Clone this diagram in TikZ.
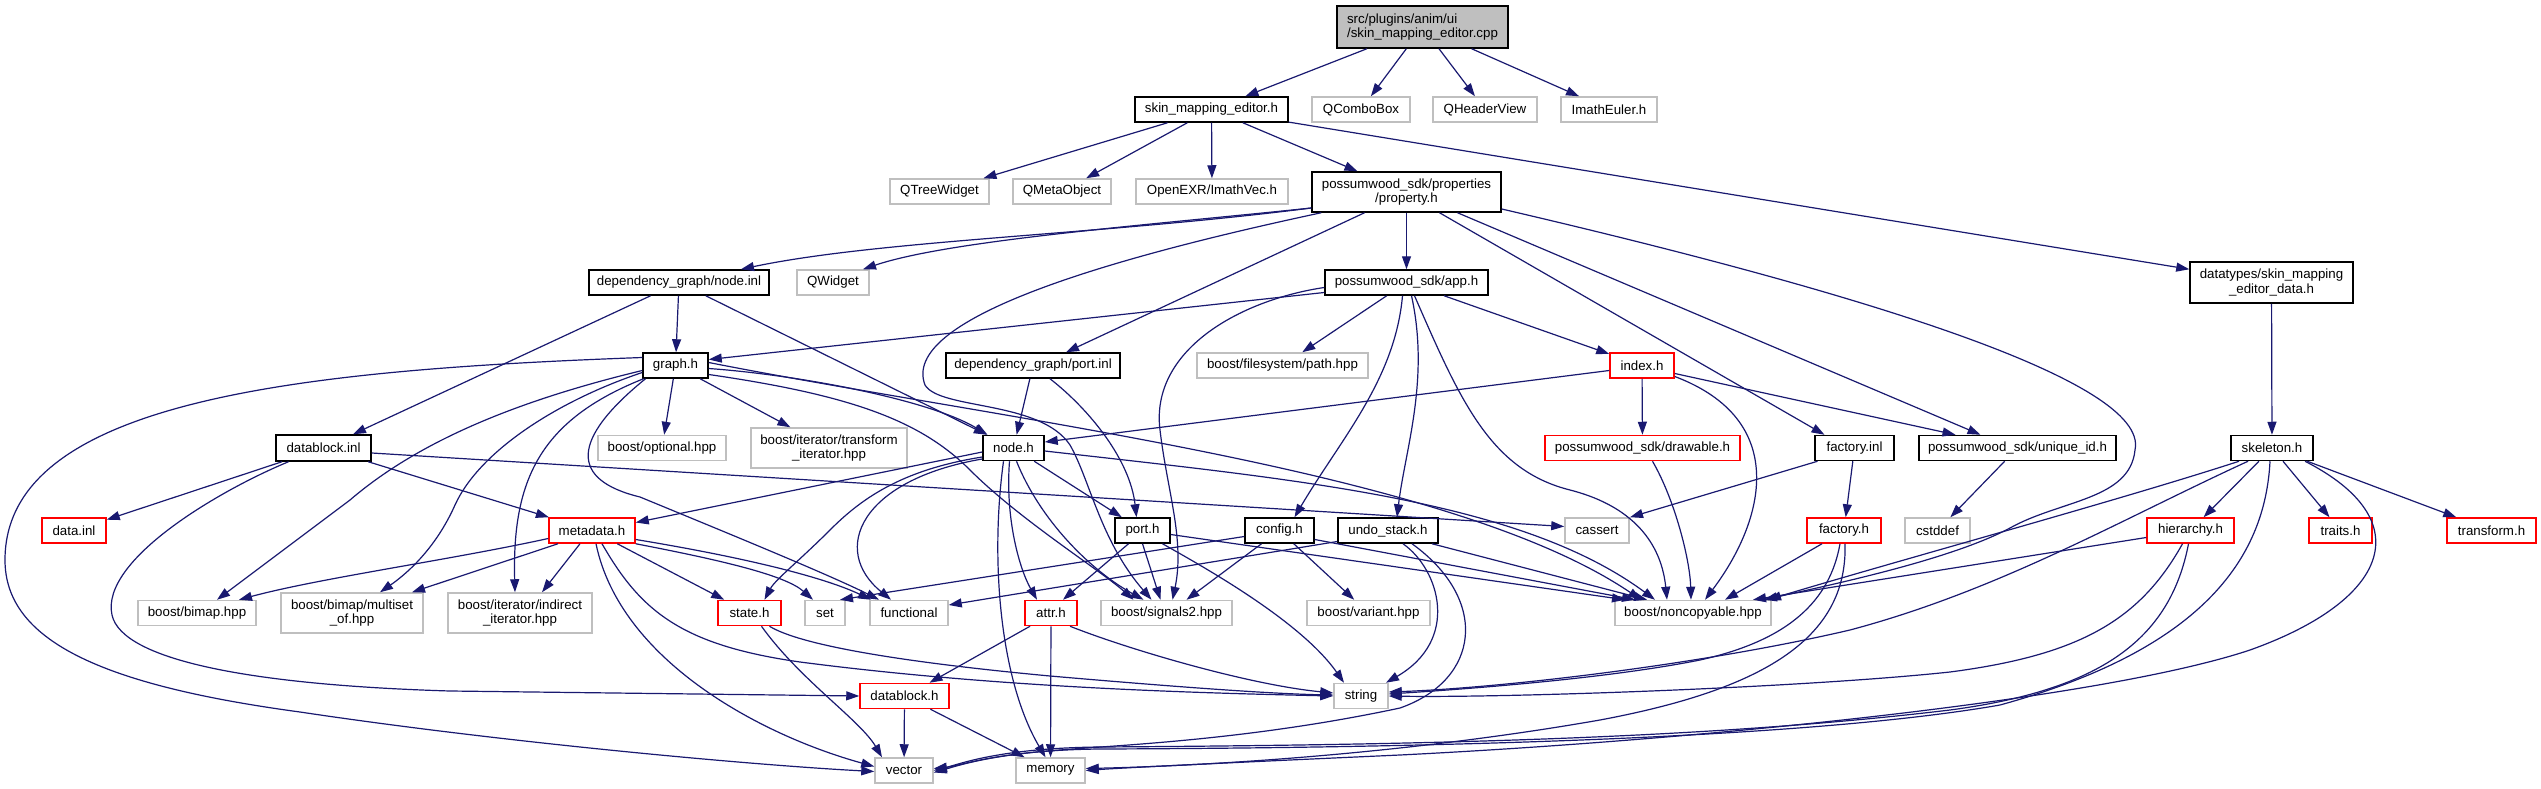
\documentclass[tikz,border=0pt]{standalone}
\usepackage{fontspec}
\setmainfont{Liberation Sans}
\usetikzlibrary{arrows.meta}
\definecolor{ec}{HTML}{191970}
\definecolor{gc}{HTML}{BFBFBF}
\definecolor{rc}{HTML}{FF0000}
\begin{document}
\begin{tikzpicture}[x=1pt,y=-1pt,
  bx/.style={draw=black, fill=white, line width=1.5pt, inner sep=0pt, align=center,
    font=\fontsize{13.3}{14.5}\selectfont, minimum height=25pt},
  gx/.style={bx, draw=gc},
  rx/.style={bx, draw=rc},
  e/.style={draw=ec, line width=1.2pt, -{Triangle[length=13pt,width=9pt]}}]
\useasboundingbox (0,0) rectangle (2541,789);
\fill[white] (0,0) rectangle (2541,789);
% ---------- nodes ----------
\node[bx, fill=gc, align=left, minimum width=171pt, minimum height=42pt] (cpp) at (1422.5,27) {src/plugins/anim/ui\\/skin\_mapping\_editor.cpp};
\node[bx, minimum width=153pt] (sme) at (1211.5,109.5) {skin\_mapping\_editor.h};
\node[gx, minimum width=98pt] (qcb) at (1361,109.5) {QComboBox};
\node[gx, minimum width=104pt] (qhv) at (1485,109.5) {QHeaderView};
\node[gx, minimum width=96pt] (ieu) at (1609,109.5) {ImathEuler.h};
\node[gx, minimum width=99pt] (qtw) at (939.5,191.5) {QTreeWidget};
\node[gx, minimum width=98pt] (qmo) at (1062,191.5) {QMetaObject};
\node[gx, minimum width=152pt] (ivec) at (1212,191.5) {OpenEXR/ImathVec.h};
\node[bx, minimum width=189pt, minimum height=40pt] (prop) at (1406.5,192) {possumwood\_sdk/properties\\/property.h};
\node[bx, minimum width=180pt] (ninl) at (679,282.5) {dependency\_graph/node.inl};
\node[gx, minimum width=72pt] (qw) at (833,282.5) {QWidget};
\node[bx, minimum width=163pt] (app) at (1406.5,282.5) {possumwood\_sdk/app.h};
\node[bx, minimum width=163pt, minimum height=41pt] (dt) at (2271.5,282.5) {datatypes/skin\_mapping\\\_editor\_data.h};
\node[bx, minimum width=65pt] (graph) at (675.5,365.5) {graph.h};
\node[bx, minimum width=174pt] (pinl) at (1033,365.5) {dependency\_graph/port.inl};
\node[gx, minimum width=171pt] (fsp) at (1282.5,365.5) {boost/filesystem/path.hpp};
\node[rx, minimum width=64pt] (idx) at (1642,365.5) {index.h};
\node[bx, minimum width=95pt, minimum height=26pt] (dbinl) at (323.5,448) {datablock.inl};
\node[gx, minimum width=128pt] (opt) at (662,448) {boost/optional.hpp};
\node[gx, minimum width=156pt, minimum height=40pt] (tit) at (829,448) {boost/iterator/transform\\\_iterator.hpp};
\node[bx, minimum width=61pt] (nodeh) at (1013.5,448) {node.h};
\node[rx, minimum width=195pt] (draw) at (1642.5,448) {possumwood\_sdk/drawable.h};
\node[bx, minimum width=79pt] (finl) at (1854.5,448) {factory.inl};
\node[bx, minimum width=197pt] (uid) at (2017.5,448) {possumwood\_sdk/unique\_id.h};
\node[bx, minimum width=82pt] (skel) at (2272,448) {skeleton.h};
\node[rx, minimum width=64pt] (dinl) at (74,530.5) {data.inl};
\node[rx, minimum width=86pt] (meta) at (592,530.5) {metadata.h};
\node[bx, minimum width=55pt] (porth) at (1142.5,530.5) {port.h};
\node[bx, minimum width=69pt] (cfg) at (1279.5,530.5) {config.h};
\node[bx, minimum width=100pt] (undo) at (1388,530.5) {undo\_stack.h};
\node[gx, minimum width=64pt] (cas) at (1597,530.5) {cassert};
\node[rx, minimum width=74pt] (fach) at (1844,530.5) {factory.h};
\node[gx, minimum width=65pt] (cstd) at (1937.5,530.5) {cstddef};
\node[rx, minimum width=87pt] (hier) at (2190.5,530.5) {hierarchy.h};
\node[rx, minimum width=63pt] (trt) at (2340.5,530.5) {traits.h};
\node[rx, minimum width=89pt] (trf) at (2491.5,530.5) {transform.h};
\node[gx, minimum width=118pt] (bimap) at (197,613) {boost/bimap.hpp};
\node[gx, minimum width=142pt, minimum height=40pt] (mset) at (352,613) {boost/bimap/multiset\\\_of.hpp};
\node[gx, minimum width=144pt, minimum height=40pt] (ind) at (520,613) {boost/iterator/indirect\\\_iterator.hpp};
\node[rx, minimum width=63pt] (state) at (749.5,613) {state.h};
\node[gx, minimum width=40pt] (set) at (825,613) {set};
\node[gx, minimum width=78pt] (func) at (909,613) {functional};
\node[rx, minimum width=52pt] (attr) at (1051,613) {attr.h};
\node[gx, minimum width=131pt] (sig) at (1166.5,613) {boost/signals2.hpp};
\node[gx, minimum width=123pt] (var) at (1368.5,613) {boost/variant.hpp};
\node[gx, minimum width=156pt] (nc) at (1693,613) {boost/noncopyable.hpp};
\node[rx, minimum width=89pt] (dbh) at (904.5,696) {datablock.h};
\node[gx, minimum width=54pt] (str) at (1361,696) {string};
\node[gx, minimum width=58pt] (vec) at (904,770.5) {vector};
\node[gx, minimum width=69pt] (mem) at (1050.5,770.5) {memory};
% ---------- edges ----------
\draw[e] (cpp) -- (sme);
\draw[e] (cpp) -- (qcb);
\draw[e] (cpp) -- (qhv);
\draw[e] (cpp) -- (ieu);
\draw[e] (sme) -- (qtw);
\draw[e] (sme) -- (qmo);
\draw[e] (sme) -- (ivec);
\draw[e] (sme) -- (prop);
\draw[e] (sme) -- (dt);
% property.h
\draw[e] ([yshift=-16pt]prop.west) .. controls (1100,235) and (880,240) .. ([xshift=62pt]ninl.north);
\draw[e] ([yshift=-16pt]prop.west) .. controls (1150,225) and (950,240) .. ([xshift=30pt]qw.north);
\draw[e] ([xshift=-42pt]prop.south) -- ([xshift=33pt]pinl.north);
\draw[e] (prop) -- (app);
\draw[e] ([xshift=33pt]prop.south) -- ([xshift=-30pt]finl.north);
\draw[e] ([xshift=51pt]prop.south) -- ([xshift=-37pt]uid.north);
\draw[e] ([xshift=10pt]prop.south west) .. controls (1100,260) and (900,320) .. (925,385) .. controls (940,410) and (1040,400) .. (1070,445) .. controls (1090,480) and (1100,540) .. ([xshift=-15pt]sig.north);
\draw[e] ([yshift=-17pt]prop.east) .. controls (1850,290) and (2150,380) .. (2135,450) .. controls (2130,500) and (2060,500) .. (2010,528) .. controls (1950,560) and (1830,585) .. ([xshift=71pt]nc.north);
\draw[e] (dt) -- (skel);
% node.inl
\draw[e] (ninl) -- (graph);
\draw[e] (ninl) -- (dbinl);
\draw[e] (ninl) -- (nodeh);
% app.h
\draw[e] ([yshift=-10pt]app.west) -- ([yshift=6pt]graph.east);
\draw[e] (app) -- (fsp);
\draw[e] (app) -- (idx);
\draw[e] ([xshift=-4pt]app.south) .. controls (1395,380) and (1340,440) .. ([xshift=15pt]cfg.north);
\draw[e] ([xshift=5pt]app.south) .. controls (1430,380) and (1405,450) .. ([xshift=9pt]undo.north);
\draw[e] ([xshift=8pt]app.south) .. controls (1460,400) and (1490,470) .. (1570,490) .. controls (1640,508) and (1662,550) .. ([xshift=-26pt]nc.north);
\draw[e] ([yshift=-5pt]app.west) .. controls (1240,300) and (1150,350) .. (1160,430) .. controls (1167,490) and (1185,540) .. ([xshift=6pt]sig.north);
% port.inl
\draw[e] (pinl) -- (nodeh);
\draw[e] ([xshift=17pt]pinl.south) .. controls (1090,410) and (1130,460) .. ([xshift=-6pt]porth.north);
% index.h
\draw[e] ([yshift=-5pt]idx.west) -- ([yshift=6pt]nodeh.east);
\draw[e] (idx) -- (draw);
\draw[e] ([yshift=-8pt]idx.east) -- ([xshift=-62pt]uid.north);
\draw[e] ([yshift=-11pt]idx.east) .. controls (1790,420) and (1765,520) .. ([xshift=12pt]nc.north);
% graph.h
\draw[e] (graph) -- (opt);
\draw[e] (graph) -- (tit);
\draw[e] ([yshift=-3pt]graph.east) .. controls (800,375) and (930,400) .. ([xshift=-26pt]nodeh.north);
\draw[e] ([yshift=3pt]graph.east) .. controls (1000,420) and (1450,470) .. ([xshift=-52pt]nc.north);
\draw[e] ([yshift=-9pt]graph.east) .. controls (850,395) and (920,420) .. (970,470) .. controls (1020,520) and (1100,570) .. ([xshift=-33pt]sig.north);
\draw[e] ([xshift=-30pt]graph.south) .. controls (570,440) and (570,480) .. (640,497) .. controls (720,530) and (830,575) .. ([xshift=-30pt]func.north);
\draw[e] ([yshift=8pt]graph.west) .. controls (300,370) and (5,400) .. (5,560) .. controls (5,640) and (100,685) .. (300,712) .. controls (500,742) and (750,765) .. ([yshift=-1pt]vec.west);
\draw[e] ([yshift=-5pt]graph.west) .. controls (520,400) and (420,440) .. (350,500) -- ([xshift=20pt]bimap.north);
\draw[e] ([yshift=-7pt]graph.west) .. controls (560,400) and (480,450) .. (455,505) .. controls (435,550) and (405,575) .. ([xshift=28pt]mset.north);
\draw[e] ([xshift=-32pt]graph.south) .. controls (540,420) and (512,480) .. ([xshift=-5pt]ind.north);
% datablock.inl
\draw[e] (dbinl) -- (dinl);
\draw[e] (dbinl) -- (meta);
\draw[e] ([xshift=-35pt]dbinl.south) .. controls (220,490) and (100,560) .. (112,615) .. controls (122,660) and (250,685) .. (450,691) -- (dbh.west);
\draw[e] ([yshift=-5pt]dbinl.east) -- ([yshift=4pt]cas.west);
% node.h
\draw[e] ([yshift=-4pt]nodeh.west) -- ([yshift=8pt]meta.east);
\draw[e] (nodeh) -- (porth);
\draw[e] ([yshift=-9pt]nodeh.west) .. controls (900,470) and (860,500) .. (830,530) .. controls (800,560) and (775,580) .. ([xshift=15pt]state.north);
\draw[e] ([yshift=-11pt]nodeh.west) .. controls (860,480) and (830,550) .. ([xshift=-18pt]func.north);
\draw[e] ([xshift=-10pt]nodeh.south) .. controls (990,560) and (1000,680) .. ([xshift=-5pt]mem.north);
\draw[e] ([xshift=-4pt]nodeh.south) .. controls (1005,520) and (1020,570) .. ([xshift=-14pt]attr.north);
\draw[e] ([xshift=3pt]nodeh.south) .. controls (1040,520) and (1090,570) .. ([xshift=-23pt]sig.north);
\draw[e] ([yshift=-3pt]nodeh.east) .. controls (1300,480) and (1520,500) .. ([xshift=-38pt]nc.north);
% drawable, factory.inl, unique_id
\draw[e] ([xshift=10pt]draw.south) .. controls (1675,500) and (1690,560) .. ([xshift=-2pt]nc.north);
\draw[e] ([xshift=-37pt]finl.south) -- ([xshift=33pt]cas.north);
\draw[e] (finl) -- (fach);
\draw[e] (uid) -- (cstd);
% skeleton.h
\draw[e] (skel) -- (hier);
\draw[e] (skel) -- (trt);
\draw[e] (skel) -- (trf);
\draw[e] ([xshift=-33pt]skel.south) .. controls (2120,500) and (1900,560) .. ([xshift=75pt]nc.north);
\draw[e] ([xshift=-24pt]skel.south) .. controls (2120,520) and (2000,590) .. (1850,630) .. controls (1700,665) and (1500,688) .. ([yshift=4pt]str.east);
\draw[e] ([xshift=-2pt]skel.south) .. controls (2265,560) and (2200,650) .. (2000,705) .. controls (1800,740) and (1400,748) .. (1100,749) .. controls (1000,750) and (960,766) .. ([yshift=2pt]vec.east);
\draw[e] ([xshift=33pt]skel.south) .. controls (2420,520) and (2390,600) .. (2250,650) .. controls (2100,700) and (1700,740) .. (1400,755) .. controls (1200,764) and (1120,768) .. (mem.east);
% hierarchy.h
\draw[e] ([yshift=-7pt]hier.west) -- ([xshift=60pt]nc.north);
\draw[e] ([xshift=-8pt]hier.south) .. controls (2140,620) and (2080,655) .. (1950,672) .. controls (1800,688) and (1500,698) .. (str.east);
\draw[e] ([xshift=-2pt]hier.south) .. controls (2170,640) and (2100,690) .. (1950,710) .. controls (1700,740) and (1400,745) .. (1100,747) .. controls (1000,748) and (960,764) .. (vec.east);
% factory.h
\draw[e] ([xshift=-22pt]fach.south) -- ([xshift=32pt]nc.north);
\draw[e] ([xshift=-4pt]fach.south) .. controls (1830,600) and (1790,640) .. (1700,660) .. controls (1600,680) and (1450,690) .. ([yshift=2pt]str.east);
\draw[e] ([xshift=1pt]fach.south) .. controls (1848,640) and (1760,690) .. (1600,720) .. controls (1400,755) and (1200,766) .. ([yshift=2pt]mem.east);
% metadata.h
\draw[e] ([yshift=-8pt]meta.west) .. controls (450,560) and (320,578) .. ([xshift=42pt]bimap.north);
\draw[e] ([xshift=-34pt]meta.south) -- ([xshift=60pt]mset.north);
\draw[e] ([xshift=-12pt]meta.south) -- ([xshift=22pt]ind.north);
\draw[e] (meta) -- (state);
\draw[e] (meta.south east) .. controls (720,560) and (785,575) .. ([xshift=-12pt]set.north);
\draw[e] ([yshift=-9pt]meta.east) .. controls (760,560) and (830,580) .. ([xshift=-38pt]func.north);
\draw[e] ([xshift=10pt]meta.south) .. controls (640,610) and (680,645) .. (800,662) .. controls (1000,688) and (1200,693) .. (str.west);
\draw[e] ([xshift=4pt]meta.south) .. controls (620,660) and (760,735) .. ([yshift=4pt]vec.west);
% state.h
\draw[e] ([xshift=20pt]state.south) .. controls (800,645) and (900,662) .. (1050,676) .. controls (1200,689) and (1280,694) .. ([yshift=1pt]str.west);
\draw[e] ([xshift=12pt]state.south) .. controls (800,680) and (860,720) .. ([xshift=-22pt]vec.north);
% port.h
\draw[e] ([xshift=-14pt]porth.south) -- ([xshift=12pt]attr.north);
\draw[e] (porth.south) -- ([xshift=-6pt]sig.north);
\draw[e] ([xshift=20pt]porth.south) .. controls (1200,565) and (1300,620) .. ([xshift=-17pt]str.north);
\draw[e] ([yshift=-4pt]porth.east) -- ([xshift=-68pt]nc.north);
% config.h
\draw[e] ([yshift=-6pt]cfg.west) -- ([xshift=15pt]set.north);
\draw[e] ([xshift=-18pt]cfg.south) -- ([xshift=20pt]sig.north);
\draw[e] (cfg) -- (var);
\draw[e] ([yshift=-9pt]cfg.east) -- ([xshift=-58pt]nc.north);
% undo_stack.h
\draw[e] ([yshift=-11pt]undo.west) -- ([yshift=8pt]func.east);
\draw[e] ([xshift=15pt]undo.south) .. controls (1440,570) and (1460,640) .. ([xshift=25pt]str.north);
\draw[e] ([xshift=24pt]undo.south) .. controls (1490,600) and (1480,680) .. (1400,708) .. controls (1250,740) and (1120,745) .. (1060,750) .. controls (990,755) and (960,765) .. ([yshift=-2pt]vec.east);
\draw[e] ([xshift=44pt]undo.south) -- ([xshift=-46pt]nc.north);
% attr.h
\draw[e] ([xshift=-21pt]attr.south) -- ([xshift=25pt]dbh.north);
\draw[e] (attr) -- (mem);
\draw[e] ([xshift=19pt]attr.south) .. controls (1130,650) and (1250,685) .. ([yshift=3pt]str.west);
% datablock.h
\draw[e] (dbh) -- (vec);
\draw[e] (dbh) -- (mem);
\end{tikzpicture}
\end{document}
